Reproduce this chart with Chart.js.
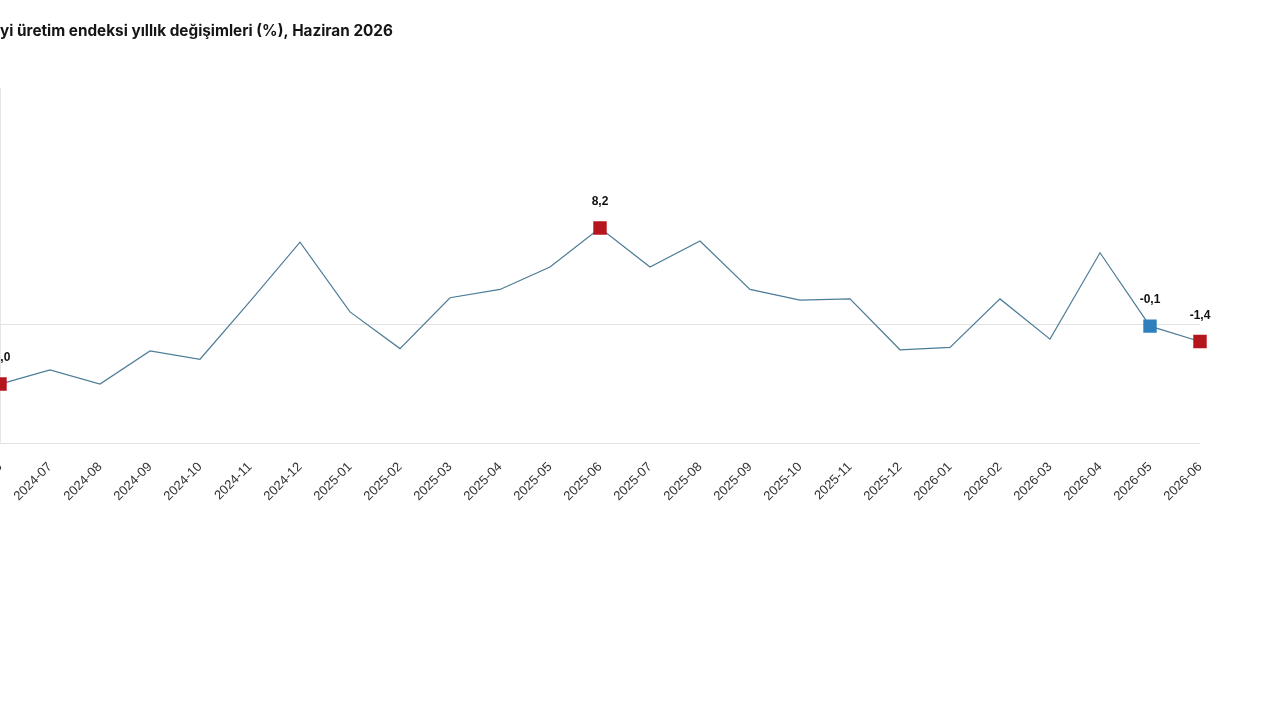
<!DOCTYPE html>
<html lang="tr">
<head>
<meta charset="utf-8">
<title>Sanayi üretim endeksi yıllık değişimleri</title>
<script src="https://cdn.jsdelivr.net/npm/chart.js@4.4.1/dist/chart.umd.min.js"></script>
<style>
    html, body { margin: 0; padding: 0; background: #ffffff; overflow: hidden; }
    #wrap { position: absolute; left: -60px; top: 0; width: 1340px; height: 720px; }
</style>
</head>
<body>
<div id="wrap"><canvas id="chart"></canvas></div>
<script>
// Data
const months = [
    '2024-06', '2024-07', '2024-08', '2024-09', '2024-10', '2024-11', '2024-12',
    '2025-01', '2025-02', '2025-03', '2025-04', '2025-05', '2025-06', '2025-07',
    '2025-08', '2025-09', '2025-10', '2025-11', '2025-12', '2026-01', '2026-02',
    '2026-03', '2026-04', '2026-05', '2026-06'
];
const annualChange = [
    -5.0, -3.8, -5.0, -2.2, -2.9, 2.0, 7.0,
    1.1, -2.0, 2.3, 3.0, 4.9, 8.2, 4.9,
    7.1, 3.0, 2.1, 2.2, -2.1, -1.9, 2.2,
    -1.2, 6.1, -0.1, -1.4
];
// highlighted months (marker + value label)
const redMonths = ['2024-06', '2025-06', '2026-06'];
const blueMonths = ['2026-05'];
const yTicks = [-10, 0, 10, 20];

const RED = '#b5151d';
const BLUE = '#2f7fbd';

const markerColor = months.map(m => redMonths.includes(m) ? RED : (blueMonths.includes(m) ? BLUE : 'rgba(0,0,0,0)'));
const markerRadius = months.map(m => (redMonths.includes(m) || blueMonths.includes(m)) ? 9.5 : 0);

// value labels above the highlighted markers
const valueLabels = {
    id: 'valueLabels',
    afterDatasetsDraw(chart) {
        const ctx = chart.ctx;
        const meta = chart.getDatasetMeta(0);
        ctx.save();
        ctx.font = 'bold 12px "Liberation Sans", Arial, sans-serif';
        ctx.fillStyle = '#111111';
        ctx.textAlign = 'center';
        ctx.textBaseline = 'middle';
        months.forEach((m, i) => {
            if (!redMonths.includes(m) && !blueMonths.includes(m)) return;
            const pt = meta.data[i];
            const txt = annualChange[i].toFixed(1).replace('.', ',');
            ctx.fillText(txt, pt.x, pt.y - 26);
        });
        ctx.restore();
    }
};

new Chart(document.getElementById('chart').getContext('2d'), {
    type: 'line',
    data: {
        labels: months,
        datasets: [{
            data: annualChange,
            borderColor: '#4d7c96',
            borderWidth: 1.2,
            tension: 0,
            fill: false,
            pointStyle: 'rect',
            pointRadius: markerRadius,
            pointHoverRadius: markerRadius,
            pointBackgroundColor: markerColor,
            pointBorderColor: markerColor,
            pointBorderWidth: 0
        }]
    },
    options: {
        responsive: true,
        maintainAspectRatio: false,
        animation: false,
        layout: {
            padding: { left: 23, right: 80, top: 22, bottom: 208 }
        },
        plugins: {
            legend: { display: false },
            tooltip: { enabled: false },
            title: {
                display: true,
                text: 'Sanayi üretim endeksi yıllık değişimleri (%), Haziran 2026',
                align: 'start',
                color: '#151515',
                font: { family: 'Inter, "Noto Sans", sans-serif', size: 15.3, weight: 'bold' },
                padding: { top: 0, bottom: 48 }
            }
        },
        scales: {
            x: {
                offset: false,
                grid: { display: false },
                border: { display: false },
                ticks: {
                    autoSkip: false,
                    maxRotation: 45,
                    minRotation: 45,
                    padding: 8,
                    color: '#333333',
                    font: { family: '"Liberation Sans", Arial, sans-serif', size: 13 }
                }
            },
            y: {
                min: yTicks[0],
                max: yTicks[yTicks.length - 1],
                afterBuildTicks: axis => { axis.ticks = yTicks.map(v => ({ value: v })); },
                afterFit: axis => { axis.width = 37; },
                ticks: { display: false },
                grid: {
                    drawTicks: false,
                    color: c => (c.tick && (c.tick.value === 0 || c.tick.value === -10)) ? '#e3e3e3' : 'rgba(0,0,0,0)',
                    lineWidth: 1
                },
                border: { display: true, color: '#e6e6e6' }
            }
        }
    },
    plugins: [valueLabels]
});
</script>
</body>
</html>
